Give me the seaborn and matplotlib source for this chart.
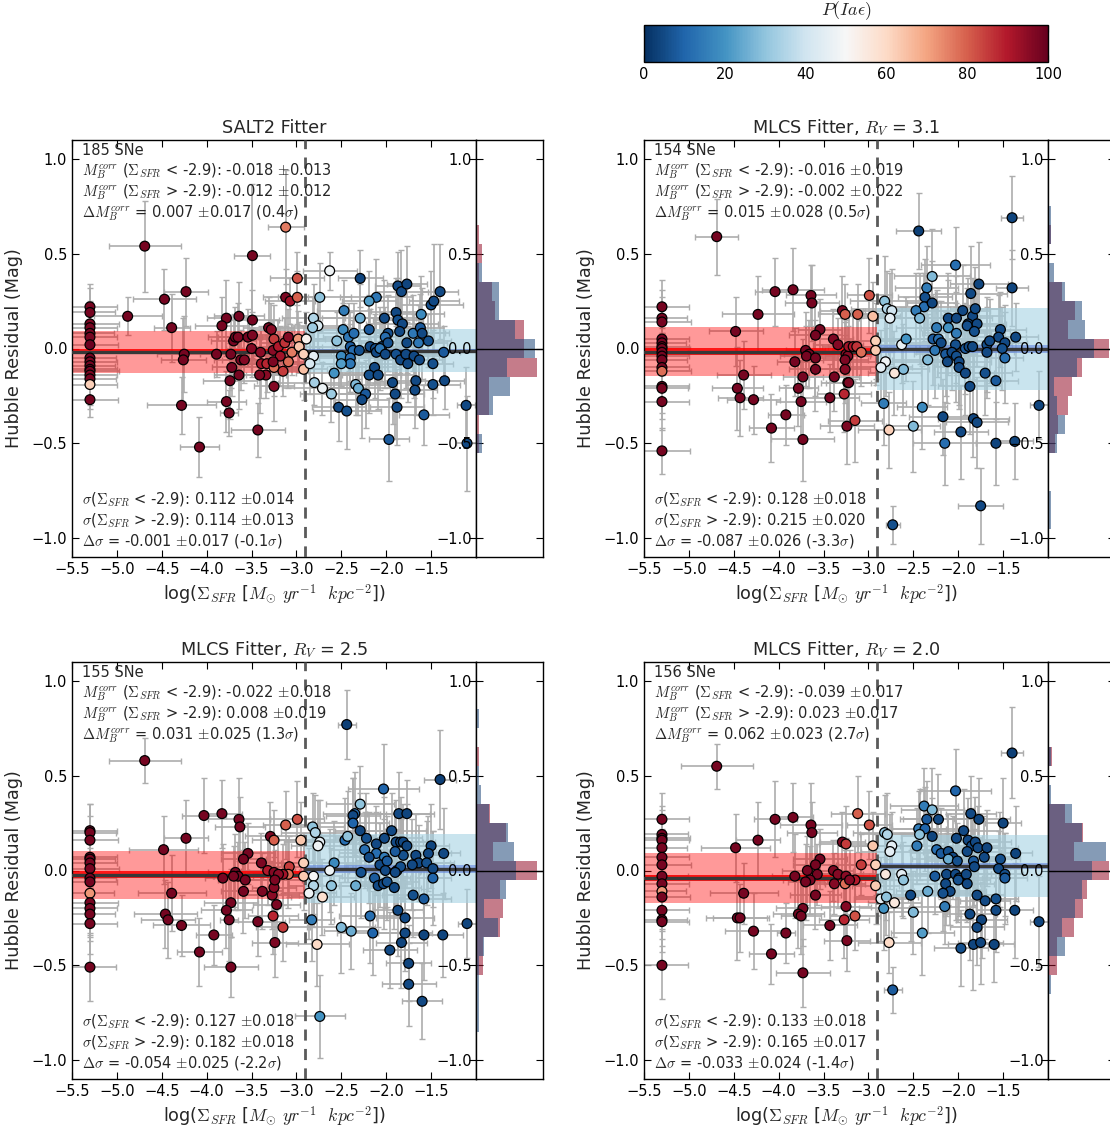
import numpy as np
import matplotlib
matplotlib.use("Agg")
import matplotlib.pyplot as plt
import seaborn as sns
from matplotlib.colors import Normalize
from matplotlib.cm import ScalarMappable

# ---------------------------------------------------------------------------
# Hubble residuals versus local star-formation surface density, four fitters.
# x: log Sigma_SFR, y: Hubble residual, p: P(Ia epsilon) in percent
# ---------------------------------------------------------------------------

salt2_x = [
    -5.30, -5.30, -5.30, -5.30, -5.30, -5.30, -5.30, -5.30, -5.30, -5.30,
    -5.30, -5.30, -5.30, -5.30, -5.30, -5.30, -4.69, -4.23, -4.47, -4.88,
    -4.39, -3.49, -4.25, -4.26, -3.89, -3.78, -3.83, -3.64, -3.70, -3.68,
    -3.65, -3.54, -3.49, -3.49, -3.50, -3.73, -3.62, -3.58, -3.72, -3.64,
    -3.74, -4.28, -3.78, -3.75, -3.43, -4.08, -3.40, -3.39, -3.33, -3.34,
    -3.41, -3.31, -3.28, -3.25, -3.25, -3.25, -3.12, -2.99, -3.12, -3.07,
    -2.99, -3.26, -3.20, -3.13, -3.09, -3.18, -3.09, -3.05, -2.98, -2.97,
    -3.26, -2.92, -2.92, -2.89, -3.15, -2.63, -2.74, -2.29, -2.11, -2.19,
    -1.87, -1.83, -1.77, -1.40, -1.50, -1.47, -2.47, -2.29, -2.02, -1.89,
    -1.87, -1.82, -1.61, -2.81, -2.76, -2.82, -2.48, -2.42, -2.36, -2.55,
    -2.19, -1.98, -2.01, -1.85, -2.05, -1.98, -1.70, -1.62, -1.60, -1.77,
    -1.64, -1.53, -2.40, -2.37, -2.30, -2.18, -2.12, -2.11, -2.07, -2.01,
    -1.89, -1.84, -1.78, -1.69, -1.63, -1.76, -1.48, -1.36, -2.50, -2.40,
    -2.40, -2.81, -2.85, -2.50, -2.58, -2.13, -2.19, -2.09, -1.93, -1.90,
    -1.88, -1.67, -1.68, -1.48, -1.35, -2.34, -2.31, -2.23, -2.27, -2.80,
    -2.71, -2.61, -2.53, -2.44, -1.58, -1.97, -1.11, -1.10,
]
salt2_y = [
    0.22, 0.19, 0.13, 0.11, 0.08, 0.06, 0.02, -0.05, -0.07, -0.09,
    -0.11, -0.12, -0.14, -0.16, -0.19, -0.27, 0.54, 0.30, 0.26, 0.17,
    0.11, 0.49, -0.03, -0.06, -0.03, 0.16, 0.12, 0.17, 0.04, 0.06,
    0.06, 0.06, 0.07, 0.15, 0.00, -0.03, -0.06, -0.06, -0.10, -0.14,
    -0.17, -0.30, -0.28, -0.34, -0.43, -0.52, -0.02, -0.08, -0.08, -0.14,
    -0.14, 0.11, 0.10, 0.05, -0.10, -0.20, 0.64, 0.37, 0.27, 0.25,
    0.27, -0.01, 0.01, 0.03, 0.06, -0.04, -0.07, -0.02, 0.05, 0.01,
    -0.07, -0.03, -0.11, 0.05, -0.12, 0.41, 0.27, 0.37, 0.27, 0.25,
    0.33, 0.30, 0.34, 0.30, 0.23, 0.25, 0.20, 0.16, 0.16, 0.19,
    0.15, 0.13, 0.18, 0.16, 0.12, 0.11, 0.10, 0.06, 0.08, 0.04,
    0.10, 0.08, 0.06, 0.09, 0.01, 0.03, 0.08, 0.11, 0.08, 0.03,
    0.03, 0.04, 0.01, -0.01, -0.01, 0.01, 0.00, -0.02, 0.00, -0.03,
    -0.03, -0.06, -0.03, -0.04, -0.06, -0.08, -0.08, -0.02, -0.04, -0.05,
    -0.08, -0.04, -0.08, -0.08, -0.13, -0.10, -0.14, -0.14, -0.18, -0.24,
    -0.31, -0.17, -0.22, -0.19, -0.17, -0.19, -0.21, -0.24, -0.27, -0.18,
    -0.21, -0.24, -0.31, -0.33, -0.35, -0.48, -0.30, -0.50,
]
salt2_p = [
    98, 98, 97, 98, 98, 98, 99, 98, 97, 98,
    98, 98, 97, 98, 62, 98, 98, 98, 98, 98,
    98, 98, 98, 98, 98, 98, 98, 98, 98, 98,
    97, 98, 97, 98, 96, 98, 98, 96, 98, 98,
    98, 98, 98, 98, 98, 98, 95, 92, 88, 95,
    97, 97, 95, 85, 78, 96, 76, 82, 97, 92,
    80, 95, 90, 86, 96, 92, 78, 76, 72, 64,
    97, 62, 65, 52, 85, 48, 30, 4, 14, 22,
    5, 5, 4, 5, 6, 5, 15, 25, 5, 5,
    6, 5, 18, 35, 42, 32, 18, 14, 12, 30,
    8, 6, 12, 5, 5, 6, 14, 8, 5, 5,
    14, 6, 8, 12, 6, 5, 6, 5, 14, 5,
    6, 5, 5, 5, 5, 5, 6, 8, 18, 12,
    14, 45, 42, 22, 20, 5, 6, 5, 5, 5,
    5, 5, 5, 6, 5, 28, 25, 8, 5, 33,
    47, 32, 5, 6, 8, 8, 5, 5,
]
salt2_xerr = [
    0.30, 0.28, 0.32, 0.30, 0.27, 0.30, 0.31, 0.29, 0.30, 0.28,
    0.30, 0.32, 0.30, 0.29, 0.30, 0.31, 0.40, 0.24, 0.35, 0.38,
    0.20, 0.20, 0.30, 0.25, 0.18, 0.22, 0.30, 0.28, 0.25, 0.30,
    0.22, 0.35, 0.25, 0.30, 0.28, 0.20, 0.30, 0.25, 0.22, 0.28,
    0.30, 0.38, 0.22, 0.10, 0.30, 0.22, 0.30, 0.25, 0.28, 0.22,
    0.30, 0.28, 0.25, 0.30, 0.26, 0.22, 0.20, 0.30, 0.25, 0.28,
    0.22, 0.35, 0.30, 0.28, 0.25, 0.30, 0.26, 0.22, 0.30, 0.25,
    0.28, 0.30, 0.26, 0.32, 0.28, 0.30, 0.35, 0.25, 0.40, 0.30,
    0.25, 0.30, 0.22, 0.20, 0.35, 0.28, 0.30, 0.42, 0.35, 0.30,
    0.28, 0.40, 0.25, 0.35, 0.30, 0.45, 0.32, 0.28, 0.40, 0.38,
    0.30, 0.42, 0.35, 0.28, 0.45, 0.30, 0.35, 0.25, 0.30, 0.40,
    0.32, 0.25, 0.45, 0.38, 0.30, 0.42, 0.35, 0.40, 0.30, 0.28,
    0.35, 0.30, 0.40, 0.28, 0.25, 0.32, 0.22, 0.18, 0.40, 0.35,
    0.30, 0.32, 0.35, 0.38, 0.42, 0.30, 0.35, 0.40, 0.28, 0.32,
    0.30, 0.35, 0.25, 0.30, 0.22, 0.40, 0.35, 0.38, 0.30, 0.40,
    0.45, 0.35, 0.30, 0.38, 0.28, 0.22, 0.10, 0.12,
]
salt2_yerr = [
    0.12, 0.13, 0.11, 0.14, 0.12, 0.13, 0.12, 0.14, 0.13, 0.12,
    0.15, 0.13, 0.12, 0.14, 0.13, 0.09, 0.24, 0.18, 0.16, 0.10,
    0.18, 0.38, 0.20, 0.22, 0.12, 0.20, 0.15, 0.18, 0.14, 0.16,
    0.18, 0.15, 0.12, 0.16, 0.15, 0.18, 0.16, 0.12, 0.15, 0.18,
    0.20, 0.15, 0.16, 0.12, 0.14, 0.16, 0.14, 0.18, 0.15, 0.12,
    0.20, 0.16, 0.14, 0.18, 0.15, 0.18, 0.30, 0.14, 0.15, 0.12,
    0.14, 0.16, 0.14, 0.13, 0.15, 0.16, 0.14, 0.12, 0.15, 0.13,
    0.14, 0.15, 0.16, 0.14, 0.13, 0.10, 0.18, 0.15, 0.20, 0.16,
    0.18, 0.22, 0.20, 0.25, 0.18, 0.30, 0.16, 0.18, 0.20, 0.18,
    0.22, 0.16, 0.20, 0.18, 0.15, 0.16, 0.14, 0.18, 0.16, 0.15,
    0.18, 0.20, 0.16, 0.22, 0.18, 0.15, 0.20, 0.18, 0.24, 0.16,
    0.20, 0.14, 0.18, 0.16, 0.15, 0.20, 0.18, 0.16, 0.22, 0.18,
    0.15, 0.20, 0.18, 0.22, 0.16, 0.20, 0.18, 0.14, 0.16, 0.18,
    0.15, 0.14, 0.16, 0.12, 0.18, 0.16, 0.20, 0.18, 0.22, 0.24,
    0.20, 0.18, 0.20, 0.16, 0.15, 0.16, 0.14, 0.18, 0.20, 0.12,
    0.14, 0.15, 0.18, 0.20, 0.16, 0.22, 0.20, 0.25,
]

mlcs31_x = [
    -5.30, -5.30, -5.30, -5.30, -5.30, -5.30, -5.30, -5.30, -5.30, -5.30,
    -5.30, -5.30, -5.30, -5.30, -5.30, -5.30, -4.69, -4.04, -3.84, -3.64,
    -3.63, -4.23, -4.48, -3.54, -3.59, -3.39, -3.34, -3.29, -3.26, -3.70,
    -3.66, -3.69, -3.82, -3.59, -3.59, -3.38, -3.73, -4.39, -4.46, -4.43,
    -4.28, -3.78, -3.75, -3.43, -3.27, -3.92, -4.08, -3.73, -3.24, -3.25,
    -3.23, -3.23, -3.12, -2.95, -2.99, -3.22, -3.17, -3.13, -3.08, -3.26,
    -3.26, -2.92, -2.92, -3.22, -3.15, -2.77, -2.83, -2.82, -2.79, -2.74,
    -2.76, -2.63, -2.58, -2.81, -2.86, -2.71, -2.61, -2.44, -2.29, -2.35,
    -2.37, -2.38, -2.29, -2.47, -2.43, -2.03, -1.77, -1.86, -1.84, -1.81,
    -1.95, -1.40, -1.40, -2.11, -2.02, -2.24, -2.11, -2.02, -1.89, -1.90,
    -1.79, -1.82, -1.53, -1.55, -1.36, -2.28, -2.22, -2.19, -2.26, -2.03,
    -1.92, -1.88, -1.84, -1.68, -1.65, -1.68, -1.48, -1.51, -1.48, -2.14,
    -2.07, -2.02, -2.12, -1.99, -1.99, -1.92, -2.34, -1.70, -1.58, -1.87,
    -2.40, -2.50, -2.17, -1.97, -2.15, -1.83, -1.79, -1.58, -1.37, -1.10,
    -1.75, -2.73,
]
mlcs31_y = [
    0.22, 0.16, 0.14, 0.05, 0.03, 0.01, 0.00, -0.02, -0.04, -0.06,
    -0.10, -0.12, -0.20, -0.21, -0.28, -0.54, 0.59, 0.30, 0.31, 0.28,
    0.24, 0.18, 0.09, 0.10, 0.07, 0.05, 0.02, 0.20, 0.18, -0.01,
    -0.03, -0.04, -0.07, -0.05, -0.11, -0.15, -0.15, -0.14, -0.21, -0.26,
    -0.27, -0.21, -0.28, -0.26, -0.24, -0.35, -0.42, -0.48, -0.41, -0.03,
    -0.04, -0.18, 0.18, 0.17, 0.28, 0.01, 0.01, 0.01, -0.02, -0.06,
    -0.11, 0.04, -0.01, -0.18, -0.38, -0.43, -0.29, 0.25, 0.21, 0.20,
    0.16, 0.02, 0.05, -0.07, -0.10, -0.13, -0.11, 0.62, 0.38, 0.32,
    0.27, 0.22, 0.24, 0.20, 0.16, 0.44, 0.34, 0.29, 0.17, 0.21,
    0.20, 0.69, 0.32, 0.16, 0.16, 0.11, 0.11, 0.08, 0.13, 0.12,
    0.13, 0.09, 0.10, 0.06, 0.06, 0.05, 0.05, 0.03, -0.01, 0.02,
    0.00, 0.01, 0.01, 0.02, 0.04, -0.02, 0.03, 0.00, -0.05, -0.03,
    -0.02, -0.04, -0.07, -0.07, -0.10, -0.13, -0.06, -0.13, -0.17, -0.20,
    -0.31, -0.41, -0.36, -0.44, -0.50, -0.37, -0.39, -0.50, -0.49, -0.30,
    -0.83, -0.93,
]
mlcs31_p = [
    98, 98, 98, 98, 98, 98, 98, 98, 98, 98,
    98, 78, 98, 98, 98, 98, 98, 98, 98, 98,
    98, 98, 98, 98, 98, 97, 96, 97, 80, 98,
    98, 98, 98, 98, 98, 98, 98, 98, 98, 98,
    98, 98, 98, 98, 88, 98, 98, 98, 97, 95,
    96, 97, 80, 65, 82, 92, 90, 86, 78, 97,
    96, 62, 63, 97, 85, 62, 15, 30, 35, 40,
    45, 46, 20, 48, 45, 56, 28, 3, 28, 15,
    6, 12, 4, 15, 28, 12, 4, 5, 5, 5,
    5, 4, 4, 5, 5, 15, 20, 15, 5, 6,
    5, 6, 5, 5, 5, 8, 12, 5, 14, 6,
    8, 5, 5, 6, 5, 5, 5, 6, 12, 8,
    5, 6, 5, 5, 5, 5, 28, 6, 8, 5,
    18, 28, 5, 5, 12, 4, 5, 4, 4, 4,
    5, 6,
]
mlcs31_xerr = [
    0.30, 0.28, 0.32, 0.30, 0.27, 0.30, 0.31, 0.29, 0.30, 0.28,
    0.30, 0.32, 0.30, 0.29, 0.30, 0.31, 0.24, 0.22, 0.35, 0.28,
    0.30, 0.40, 0.30, 0.25, 0.30, 0.22, 0.28, 0.25, 0.30, 0.22,
    0.28, 0.30, 0.20, 0.25, 0.30, 0.28, 0.22, 0.30, 0.28, 0.25,
    0.30, 0.22, 0.28, 0.32, 0.30, 0.20, 0.25, 0.35, 0.30, 0.28,
    0.25, 0.30, 0.28, 0.30, 0.25, 0.30, 0.28, 0.26, 0.30, 0.25,
    0.28, 0.30, 0.28, 0.25, 0.30, 0.35, 0.25, 0.38, 0.40, 0.32,
    0.35, 0.30, 0.28, 0.40, 0.35, 0.30, 0.28, 0.25, 0.42, 0.35,
    0.30, 0.40, 0.28, 0.35, 0.30, 0.38, 0.32, 0.40, 0.35, 0.28,
    0.30, 0.12, 0.18, 0.35, 0.40, 0.45, 0.30, 0.38, 0.42, 0.35,
    0.30, 0.40, 0.28, 0.30, 0.25, 0.45, 0.38, 0.40, 0.35, 0.30,
    0.42, 0.35, 0.30, 0.28, 0.32, 0.30, 0.25, 0.22, 0.20, 0.35,
    0.40, 0.38, 0.30, 0.35, 0.28, 0.32, 0.40, 0.30, 0.25, 0.35,
    0.28, 0.30, 0.38, 0.30, 0.35, 0.40, 0.35, 0.22, 0.20, 0.10,
    0.25, 0.08,
]
mlcs31_yerr = [
    0.14, 0.15, 0.13, 0.16, 0.14, 0.15, 0.14, 0.16, 0.15, 0.14,
    0.17, 0.15, 0.14, 0.16, 0.15, 0.12, 0.20, 0.18, 0.22, 0.16,
    0.20, 0.20, 0.18, 0.16, 0.18, 0.16, 0.14, 0.18, 0.16, 0.20,
    0.18, 0.16, 0.18, 0.20, 0.22, 0.18, 0.20, 0.18, 0.22, 0.20,
    0.18, 0.20, 0.22, 0.18, 0.20, 0.16, 0.18, 0.22, 0.20, 0.18,
    0.16, 0.20, 0.16, 0.18, 0.20, 0.16, 0.18, 0.16, 0.18, 0.20,
    0.18, 0.20, 0.18, 0.20, 0.22, 0.20, 0.22, 0.24, 0.20, 0.22,
    0.24, 0.20, 0.22, 0.18, 0.20, 0.22, 0.24, 0.20, 0.25, 0.22,
    0.20, 0.18, 0.22, 0.20, 0.24, 0.20, 0.22, 0.25, 0.20, 0.22,
    0.24, 0.22, 0.20, 0.24, 0.22, 0.20, 0.25, 0.22, 0.24, 0.20,
    0.22, 0.25, 0.20, 0.22, 0.18, 0.24, 0.20, 0.22, 0.25, 0.20,
    0.24, 0.22, 0.20, 0.25, 0.22, 0.24, 0.20, 0.22, 0.24, 0.22,
    0.20, 0.24, 0.22, 0.25, 0.20, 0.22, 0.24, 0.22, 0.20, 0.25,
    0.22, 0.24, 0.20, 0.25, 0.22, 0.20, 0.24, 0.22, 0.20, 0.18,
    0.20, 0.10,
]

mlcs25_x = [
    -5.30, -5.30, -5.30, -5.30, -5.30, -5.30, -5.30, -5.30, -5.30, -5.30,
    -5.30, -5.30, -5.30, -5.30, -5.30, -4.69, -4.03, -3.83, -3.64, -3.63,
    -4.23, -4.48, -3.54, -3.59, -3.39, -3.29, -3.25, -3.68, -3.65, -3.70,
    -3.82, -3.57, -3.59, -3.32, -3.25, -3.38, -3.27, -3.25, -4.39, -3.73,
    -3.78, -3.75, -4.46, -4.43, -4.28, -3.43, -3.26, -3.92, -4.08, -3.73,
    -3.24, -2.99, -3.12, -3.08, -3.09, -3.15, -3.20, -3.24, -3.22, -3.15,
    -2.92, -2.92, -2.95, -2.77, -2.44, -1.40, -2.03, -2.29, -2.35, -2.37,
    -2.37, -2.29, -1.86, -1.77, -1.94, -2.02, -2.22, -2.11, -1.89, -1.84,
    -1.81, -1.77, -1.81, -1.90, -1.50, -1.53, -1.36, -1.67, -1.64, -1.71,
    -1.55, -1.48, -1.48, -2.46, -2.43, -2.24, -2.11, -2.19, -2.02, -2.07,
    -1.99, -2.01, -1.88, -1.84, -1.90, -2.58, -2.28, -2.13, -2.09, -2.03,
    -1.99, -1.91, -2.34, -2.61, -2.63, -2.82, -2.79, -2.74, -2.76, -2.81,
    -2.81, -2.86, -2.71, -2.83, -2.50, -2.39, -2.15, -2.18, -1.96, -1.87,
    -1.79, -1.79, -1.83, -1.70, -1.58, -1.58, -1.37, -1.10, -1.75, -1.75,
    -1.60, -2.74,
]
mlcs25_y = [
    0.21, 0.20, 0.16, 0.07, 0.06, 0.04, 0.01, -0.04, -0.06, -0.12,
    -0.17, -0.20, -0.23, -0.28, -0.51, 0.58, 0.29, 0.30, 0.27, 0.23,
    0.17, 0.11, 0.09, 0.06, 0.04, 0.18, 0.16, -0.01, -0.03, -0.03,
    -0.04, -0.05, -0.11, 0.00, -0.01, -0.11, -0.13, -0.09, -0.12, -0.17,
    -0.21, -0.26, -0.23, -0.26, -0.29, -0.27, -0.24, -0.34, -0.43, -0.51,
    -0.38, 0.27, 0.24, 0.02, -0.02, -0.02, -0.02, -0.05, -0.18, -0.30,
    0.04, -0.03, 0.16, -0.39, 0.77, 0.48, 0.43, 0.35, 0.30, 0.29,
    0.25, 0.21, 0.30, 0.30, 0.21, 0.17, 0.17, 0.14, 0.15, 0.15,
    0.15, 0.13, 0.08, 0.10, 0.13, 0.09, 0.09, 0.08, 0.04, 0.03,
    0.04, 0.01, -0.04, 0.16, 0.18, 0.11, 0.09, 0.07, 0.07, 0.03,
    0.05, 0.00, 0.00, 0.02, -0.01, 0.04, -0.01, -0.04, -0.08, -0.07,
    -0.06, -0.09, -0.08, -0.08, 0.00, 0.23, 0.20, 0.15, 0.13, -0.03,
    -0.08, -0.12, -0.14, -0.26, -0.30, -0.32, -0.33, -0.24, -0.42, -0.21,
    -0.25, -0.33, -0.38, -0.13, -0.15, -0.34, -0.34, -0.28, -0.49, -0.60,
    -0.69, -0.77,
]
mlcs25_p = [
    98, 98, 98, 98, 98, 98, 98, 98, 98, 72,
    98, 98, 98, 98, 98, 98, 98, 98, 98, 98,
    98, 98, 98, 98, 97, 97, 80, 98, 98, 98,
    98, 98, 98, 90, 96, 97, 95, 96, 98, 98,
    98, 98, 98, 98, 98, 98, 88, 98, 98, 98,
    97, 82, 80, 85, 78, 92, 95, 97, 97, 85,
    62, 63, 64, 60, 3, 3, 10, 30, 12, 5,
    10, 4, 5, 4, 5, 5, 6, 5, 5, 4,
    5, 4, 6, 8, 4, 5, 5, 5, 5, 5,
    6, 5, 10, 12, 30, 12, 12, 5, 15, 5,
    8, 5, 5, 6, 5, 18, 6, 8, 5, 5,
    6, 5, 25, 30, 47, 30, 35, 45, 48, 50,
    35, 48, 58, 15, 28, 25, 10, 12, 5, 5,
    5, 5, 4, 6, 8, 4, 4, 4, 4, 5,
    5, 20,
]
mlcs25_xerr = [
    0.30, 0.29, 0.31, 0.30, 0.28, 0.30, 0.32, 0.29, 0.30, 0.27,
    0.31, 0.30, 0.28, 0.30, 0.29, 0.40, 0.24, 0.22, 0.35, 0.28,
    0.24, 0.38, 0.30, 0.25, 0.22, 0.28, 0.25, 0.30, 0.28, 0.22,
    0.20, 0.30, 0.25, 0.30, 0.28, 0.22, 0.30, 0.25, 0.38, 0.30,
    0.28, 0.10, 0.35, 0.30, 0.32, 0.30, 0.28, 0.20, 0.25, 0.30,
    0.26, 0.30, 0.25, 0.28, 0.30, 0.25, 0.28, 0.30, 0.26, 0.30,
    0.28, 0.30, 0.25, 0.35, 0.10, 0.18, 0.40, 0.38, 0.35, 0.30,
    0.40, 0.28, 0.35, 0.30, 0.38, 0.42, 0.35, 0.40, 0.30, 0.28,
    0.35, 0.30, 0.40, 0.45, 0.20, 0.25, 0.18, 0.30, 0.35, 0.28,
    0.30, 0.22, 0.20, 0.35, 0.30, 0.40, 0.42, 0.35, 0.45, 0.38,
    0.35, 0.40, 0.30, 0.38, 0.28, 0.30, 0.35, 0.40, 0.30, 0.32,
    0.35, 0.30, 0.38, 0.30, 0.28, 0.35, 0.38, 0.40, 0.30, 0.32,
    0.28, 0.30, 0.35, 0.25, 0.38, 0.30, 0.40, 0.35, 0.30, 0.28,
    0.32, 0.30, 0.28, 0.35, 0.30, 0.25, 0.22, 0.10, 0.25, 0.30,
    0.22, 0.28,
]
mlcs25_yerr = [
    0.14, 0.15, 0.13, 0.16, 0.14, 0.15, 0.14, 0.16, 0.15, 0.14,
    0.17, 0.15, 0.14, 0.16, 0.18, 0.12, 0.20, 0.18, 0.22, 0.16,
    0.20, 0.18, 0.16, 0.18, 0.16, 0.18, 0.16, 0.20, 0.18, 0.16,
    0.18, 0.20, 0.22, 0.18, 0.16, 0.20, 0.18, 0.16, 0.20, 0.18,
    0.20, 0.22, 0.18, 0.20, 0.16, 0.18, 0.20, 0.16, 0.18, 0.16,
    0.18, 0.20, 0.18, 0.16, 0.18, 0.16, 0.18, 0.16, 0.20, 0.18,
    0.16, 0.18, 0.20, 0.22, 0.18, 0.26, 0.24, 0.20, 0.22, 0.20,
    0.24, 0.20, 0.22, 0.18, 0.20, 0.22, 0.24, 0.20, 0.22, 0.24,
    0.20, 0.22, 0.24, 0.20, 0.22, 0.20, 0.24, 0.22, 0.20, 0.24,
    0.22, 0.20, 0.25, 0.22, 0.24, 0.20, 0.22, 0.24, 0.20, 0.22,
    0.24, 0.20, 0.22, 0.25, 0.20, 0.22, 0.24, 0.20, 0.22, 0.24,
    0.20, 0.22, 0.24, 0.20, 0.22, 0.18, 0.20, 0.22, 0.24, 0.20,
    0.22, 0.24, 0.20, 0.22, 0.24, 0.20, 0.22, 0.25, 0.20, 0.24,
    0.22, 0.20, 0.24, 0.22, 0.20, 0.24, 0.22, 0.18, 0.20, 0.22,
    0.20, 0.22,
]

mlcs20_x = [
    -5.30, -5.30, -5.30, -5.30, -5.30, -5.30, -5.30, -5.30, -5.30, -5.30,
    -5.30, -5.30, -5.30, -5.30, -5.30, -4.69, -4.04, -3.84, -3.64, -3.63,
    -4.23, -4.48, -3.54, -3.59, -3.39, -3.34, -3.29, -3.25, -3.68, -3.57,
    -3.65, -3.70, -3.82, -3.59, -3.38, -3.25, -3.26, -4.39, -3.73, -3.78,
    -3.75, -4.46, -4.43, -4.28, -3.92, -3.43, -3.27, -4.08, -3.73, -3.24,
    -3.25, -3.12, -2.99, -3.08, -3.15, -3.21, -3.15, -2.92, -2.92, -2.95,
    -2.77, -1.40, -2.03, -2.38, -2.29, -2.35, -2.22, -1.86, -1.77, -1.50,
    -2.44, -2.37, -2.43, -2.29, -1.94, -2.46, -2.02, -1.89, -1.85, -1.81,
    -1.78, -1.68, -1.36, -2.24, -2.19, -2.11, -2.06, -2.11, -2.01, -1.90,
    -1.83, -1.82, -1.71, -1.53, -1.55, -1.48, -1.48, -2.26, -2.13, -2.03,
    -1.99, -2.00, -1.91, -1.90, -2.14, -2.09, -2.17, -2.34, -2.53, -1.70,
    -1.58, -1.79, -2.15, -2.50, -1.87, -1.74, -1.58, -1.37, -1.79, -1.10,
    -2.40, -1.97, -1.83, -1.75, -1.60, -2.73, -2.82, -2.79, -2.74, -2.76,
    -2.63, -2.61, -2.81, -2.86, -2.80, -2.71, -2.83,
]
mlcs20_y = [
    0.27, 0.19, 0.17, 0.16, 0.12, 0.07, 0.03, -0.03, -0.07, -0.11,
    -0.14, -0.21, -0.26, -0.27, -0.50, 0.55, 0.27, 0.28, 0.24, 0.20,
    0.16, 0.12, 0.06, 0.03, 0.00, -0.02, 0.15, 0.14, 0.00, -0.02,
    -0.05, -0.06, -0.03, -0.13, -0.07, -0.03, -0.07, -0.12, -0.20, -0.23,
    -0.24, -0.25, -0.25, -0.32, -0.33, -0.29, -0.26, -0.44, -0.54, -0.37,
    -0.19, 0.30, 0.24, 0.03, -0.05, -0.05, -0.24, 0.03, -0.08, 0.13,
    -0.38, 0.62, 0.42, 0.34, 0.32, 0.27, 0.27, 0.30, 0.27, 0.25,
    0.22, 0.22, 0.19, 0.18, 0.21, 0.13, 0.17, 0.16, 0.13, 0.15,
    0.12, 0.12, 0.09, 0.11, 0.09, 0.10, 0.07, 0.06, 0.05, 0.10,
    0.05, 0.02, 0.07, 0.06, 0.01, -0.02, -0.04, -0.03, -0.02, -0.02,
    -0.04, -0.05, -0.02, -0.07, -0.07, -0.11, -0.12, -0.11, -0.13, -0.16,
    -0.15, -0.13, -0.19, -0.22, -0.23, -0.26, -0.21, -0.21, -0.30, -0.27,
    -0.33, -0.41, -0.39, -0.38, -0.39, -0.63, 0.20, 0.19, 0.13, 0.10,
    -0.02, -0.05, -0.02, -0.15, -0.14, -0.17, -0.20,
]
mlcs20_p = [
    98, 98, 98, 98, 98, 98, 98, 98, 98, 72,
    98, 98, 98, 98, 98, 98, 98, 98, 98, 98,
    98, 98, 98, 98, 97, 96, 97, 85, 98, 98,
    98, 98, 98, 98, 96, 95, 78, 98, 98, 98,
    98, 98, 98, 98, 98, 98, 88, 98, 98, 97,
    96, 80, 82, 85, 90, 96, 82, 62, 63, 64,
    60, 3, 10, 15, 28, 8, 5, 5, 4, 4,
    15, 10, 30, 4, 5, 15, 5, 5, 6, 5,
    5, 4, 4, 12, 8, 6, 5, 25, 6, 5,
    8, 5, 5, 6, 5, 6, 8, 8, 5, 5,
    5, 6, 5, 5, 5, 5, 6, 25, 5, 5,
    6, 5, 15, 28, 5, 4, 5, 4, 5, 4,
    22, 6, 4, 4, 4, 8, 30, 35, 45, 45,
    45, 30, 55, 45, 30, 55, 20,
]
mlcs20_xerr = [
    0.30, 0.29, 0.31, 0.30, 0.28, 0.30, 0.32, 0.29, 0.30, 0.27,
    0.31, 0.30, 0.28, 0.30, 0.29, 0.40, 0.24, 0.22, 0.35, 0.28,
    0.24, 0.38, 0.30, 0.25, 0.22, 0.28, 0.25, 0.30, 0.28, 0.22,
    0.30, 0.20, 0.25, 0.28, 0.30, 0.26, 0.22, 0.38, 0.30, 0.28,
    0.22, 0.35, 0.30, 0.32, 0.10, 0.30, 0.28, 0.25, 0.30, 0.26,
    0.28, 0.30, 0.25, 0.28, 0.30, 0.25, 0.28, 0.30, 0.26, 0.30,
    0.35, 0.12, 0.40, 0.38, 0.35, 0.30, 0.40, 0.28, 0.35, 0.20,
    0.30, 0.38, 0.42, 0.35, 0.40, 0.30, 0.28, 0.35, 0.30, 0.40,
    0.45, 0.20, 0.18, 0.30, 0.35, 0.28, 0.30, 0.40, 0.35, 0.38,
    0.35, 0.40, 0.30, 0.22, 0.25, 0.20, 0.25, 0.38, 0.35, 0.40,
    0.30, 0.35, 0.28, 0.30, 0.38, 0.40, 0.30, 0.35, 0.30, 0.28,
    0.25, 0.30, 0.35, 0.40, 0.30, 0.28, 0.22, 0.20, 0.30, 0.10,
    0.35, 0.30, 0.28, 0.25, 0.22, 0.10, 0.35, 0.30, 0.38, 0.32,
    0.30, 0.35, 0.28, 0.30, 0.35, 0.30, 0.28,
]
mlcs20_yerr = [
    0.14, 0.15, 0.13, 0.16, 0.14, 0.15, 0.14, 0.16, 0.15, 0.14,
    0.17, 0.15, 0.14, 0.16, 0.18, 0.12, 0.20, 0.18, 0.22, 0.16,
    0.20, 0.18, 0.16, 0.18, 0.16, 0.18, 0.16, 0.20, 0.18, 0.16,
    0.18, 0.20, 0.22, 0.18, 0.16, 0.20, 0.18, 0.16, 0.20, 0.18,
    0.20, 0.22, 0.18, 0.20, 0.16, 0.18, 0.20, 0.16, 0.18, 0.16,
    0.18, 0.20, 0.18, 0.16, 0.18, 0.16, 0.18, 0.16, 0.20, 0.18,
    0.16, 0.24, 0.22, 0.20, 0.22, 0.20, 0.24, 0.20, 0.22, 0.24,
    0.20, 0.22, 0.24, 0.20, 0.22, 0.20, 0.24, 0.22, 0.20, 0.24,
    0.22, 0.20, 0.25, 0.22, 0.24, 0.20, 0.22, 0.24, 0.20, 0.22,
    0.24, 0.20, 0.22, 0.25, 0.20, 0.22, 0.24, 0.20, 0.22, 0.24,
    0.20, 0.22, 0.24, 0.20, 0.22, 0.18, 0.20, 0.22, 0.24, 0.20,
    0.22, 0.24, 0.20, 0.22, 0.24, 0.20, 0.22, 0.25, 0.20, 0.24,
    0.22, 0.20, 0.24, 0.22, 0.20, 0.12, 0.20, 0.22, 0.18, 0.20,
    0.22, 0.20, 0.24, 0.22, 0.20, 0.18, 0.22,
]

# Summary statistics quoted in each panel (low / high Sigma_SFR split at -2.9)
fitter_titles = ["SALT2 Fitter", r"MLCS Fitter, $R_V$ = 3.1",
                 r"MLCS Fitter, $R_V$ = 2.5", r"MLCS Fitter, $R_V$ = 2.0"]
n_sne = [185, 154, 155, 156]
mean_low = [-0.018, -0.016, -0.022, -0.039]
mean_low_err = [0.013, 0.019, 0.018, 0.017]
mean_high = [-0.012, -0.002, 0.008, 0.023]
mean_high_err = [0.012, 0.022, 0.019, 0.017]
delta_mean = [0.007, 0.015, 0.031, 0.062]
delta_mean_err = [0.017, 0.028, 0.025, 0.023]
delta_mean_nsig = [0.4, 0.5, 1.3, 2.7]
sigma_low = [0.112, 0.128, 0.127, 0.133]
sigma_low_err = [0.014, 0.018, 0.018, 0.018]
sigma_high = [0.114, 0.215, 0.182, 0.165]
sigma_high_err = [0.013, 0.020, 0.018, 0.017]
delta_sigma = [-0.001, -0.087, -0.054, -0.033]
delta_sigma_err = [0.017, 0.026, 0.025, 0.024]
delta_sigma_nsig = [-0.1, -3.3, -2.2, -1.4]

x_ticks = [-5.5, -5.0, -4.5, -4.0, -3.5, -3.0, -2.5, -2.0, -1.5]
y_ticks = [-1.0, -0.5, 0.0, 0.5, 1.0]
cbar_ticks = [0, 20, 40, 60, 80, 100]
SPLIT = -2.9
XLIM = (-5.5, -1.0)
YLIM = (-1.1, 1.1)

panel_data = [
    (salt2_x, salt2_y, salt2_p, salt2_xerr, salt2_yerr),
    (mlcs31_x, mlcs31_y, mlcs31_p, mlcs31_xerr, mlcs31_yerr),
    (mlcs25_x, mlcs25_y, mlcs25_p, mlcs25_xerr, mlcs25_yerr),
    (mlcs20_x, mlcs20_y, mlcs20_p, mlcs20_xerr, mlcs20_yerr),
]

# ---------------------------------------------------------------------------
sns.set_style("ticks")
plt.rcParams.update({
    "font.family": ["DejaVu Sans"],
    "mathtext.fontset": "cm",
    "xtick.direction": "in",
    "ytick.direction": "in",
    "xtick.major.size": 5,
    "ytick.major.size": 5,
    "xtick.color": "black",
    "ytick.color": "black",
    "axes.edgecolor": "black",
    "axes.linewidth": 1.0,
    "xtick.labelsize": 10.5,
    "ytick.labelsize": 10.5,
})

fig = plt.figure(figsize=(11.1, 11.28), dpi=100)

W, H = 1110.0, 1128.0
main_w = 404 / W
main_h = 417 / H
hist_w = 67 / W
lefts = [72 / W, 644 / W, 72 / W, 644 / W]
bottoms = [1 - 557 / H, 1 - 557 / H, 1 - 1079 / H, 1 - 1079 / H]

cmap = "RdBu_r"
norm = Normalize(0, 100)
hist_edges = np.arange(-1.05, 1.0501, 0.1)
FS = 10.5

for i, (xs, ys, ps, xe, ye) in enumerate(panel_data):
    xs = np.asarray(xs); ys = np.asarray(ys); ps = np.asarray(ps)
    xe = np.asarray(xe); ye = np.asarray(ye)

    ax = fig.add_axes([lefts[i], bottoms[i], main_w, main_h])
    hax = fig.add_axes([lefts[i] + main_w, bottoms[i], hist_w, main_h])

    # measurement uncertainties
    ax.errorbar(xs, ys, xerr=xe, yerr=ye, fmt="none", ecolor="#adadad",
                elinewidth=1.2, capsize=2.5, capthick=1.0, zorder=1)

    # scatter bands: mean +/- sigma, and mean +/- error on the mean
    ml, mh = mean_low[i], mean_high[i]
    ax.fill_between([XLIM[0], SPLIT], ml - sigma_low[i], ml + sigma_low[i],
                    color="#ff0000", alpha=0.40, lw=0, zorder=2)
    ax.fill_between([SPLIT, XLIM[1]], mh - sigma_high[i], mh + sigma_high[i],
                    color="#a6d3e3", alpha=0.60, lw=0, zorder=2)
    ax.fill_between([XLIM[0], SPLIT], ml - mean_low_err[i], ml + mean_low_err[i],
                    color="#ff0000", alpha=0.85, lw=0, zorder=2.2)
    ax.fill_between([SPLIT, XLIM[1]], mh - mean_high_err[i], mh + mean_high_err[i],
                    color="#5a7ee0", alpha=0.55, lw=0, zorder=2.2)
    ax.plot([XLIM[0], SPLIT], [ml, ml], color="#383838", lw=2.4, zorder=3)
    ax.plot([SPLIT, XLIM[1]], [mh, mh], color="#383838", lw=2.4, zorder=3)

    ax.axvline(SPLIT, color="#5a5a5a", lw=2.0, ls=(0, (4, 3)), zorder=3.5)

    sns.scatterplot(x=xs, y=ys, hue=ps, palette=cmap, hue_norm=(0, 100),
                    s=50, edgecolor="black", linewidth=0.9, legend=False,
                    ax=ax, zorder=4)

    ax.set_xlim(*XLIM)
    ax.set_ylim(*YLIM)
    ax.set_xticks(x_ticks)
    ax.set_yticks(y_ticks)
    ax.tick_params(top=True, right=True, labelright=False)
    ax.set_title(fitter_titles[i], fontsize=12.7, pad=5)
    ax.set_xlabel(r"log($\Sigma_{SFR}$ [$M_{\odot}$ $yr^{-1}$  $kpc^{-2}$])",
                  fontsize=12.7, labelpad=4)
    ax.set_ylabel("Hubble Residual (Mag)", fontsize=12.7, labelpad=6)

    # annotations
    tx = 0.025
    ax.text(tx, 0.976, f"{n_sne[i]} SNe", transform=ax.transAxes,
            va="center", ha="left", fontsize=FS, zorder=6)
    ax.text(tx, 0.926,
            r"$M_B^{corr}$ ($\Sigma_{SFR}$ < -2.9): "
            + f"{mean_low[i]:.3f} " + r"$\pm$" + f"{mean_low_err[i]:.3f}",
            transform=ax.transAxes, va="center", ha="left", fontsize=FS, zorder=6)
    ax.text(tx, 0.875,
            r"$M_B^{corr}$ ($\Sigma_{SFR}$ > -2.9): "
            + f"{mean_high[i]:.3f} " + r"$\pm$" + f"{mean_high_err[i]:.3f}",
            transform=ax.transAxes, va="center", ha="left", fontsize=FS, zorder=6)
    ax.text(tx, 0.825,
            r"$\Delta M_B^{corr}$ = " + f"{delta_mean[i]:.3f} " + r"$\pm$"
            + f"{delta_mean_err[i]:.3f} ({delta_mean_nsig[i]:.1f}" + r"$\sigma$)",
            transform=ax.transAxes, va="center", ha="left", fontsize=FS, zorder=6)
    ax.text(tx, 0.139,
            r"$\sigma$($\Sigma_{SFR}$ < -2.9): " + f"{sigma_low[i]:.3f} "
            + r"$\pm$" + f"{sigma_low_err[i]:.3f}",
            transform=ax.transAxes, va="center", ha="left", fontsize=FS, zorder=6)
    ax.text(tx, 0.089,
            r"$\sigma$($\Sigma_{SFR}$ > -2.9): " + f"{sigma_high[i]:.3f} "
            + r"$\pm$" + f"{sigma_high_err[i]:.3f}",
            transform=ax.transAxes, va="center", ha="left", fontsize=FS, zorder=6)
    ax.text(tx, 0.038,
            r"$\Delta\sigma$ = " + f"{delta_sigma[i]:.3f} " + r"$\pm$"
            + f"{delta_sigma_err[i]:.3f} ({delta_sigma_nsig[i]:.1f}" + r"$\sigma$)",
            transform=ax.transAxes, va="center", ha="left", fontsize=FS, zorder=6)

    # side histograms of the residuals, split by Sigma_SFR
    low = ys[xs < SPLIT]
    high = ys[xs >= SPLIT]
    sns.histplot(y=low, bins=hist_edges, stat="density", element="step",
                 fill=True, color="#96112b", alpha=0.55, linewidth=0, ax=hax)
    sns.histplot(y=high, bins=hist_edges, stat="density", element="step",
                 fill=True, color="#21497b", alpha=0.55, linewidth=0, ax=hax)
    hax.axhline(0, color="black", lw=1.0)
    hax.set_ylim(*YLIM)
    xmax = hax.get_xlim()[1]
    hax.set_xlim(0, xmax * 1.05)
    hax.set_xticks([])
    hax.set_xlabel("")
    hax.set_ylabel("")
    hax.set_yticks(y_ticks)
    hax.tick_params(axis="y", left=True, right=True, labelleft=True,
                    labelright=False, direction="in", pad=3)
    for sp in hax.spines.values():
        sp.set_visible(True)
        sp.set_color("black")

# colour scale for P(Ia epsilon)
cax = fig.add_axes([644 / W, 1 - 62 / H, main_w, 37 / H])
sm = ScalarMappable(norm=norm, cmap=cmap)
cb = fig.colorbar(sm, cax=cax, orientation="horizontal")
cb.set_ticks(cbar_ticks)
cb.outline.set_linewidth(1.0)
cax.tick_params(direction="in", top=True, bottom=True, length=5, labelsize=10.5)
cax.set_title(r"$P(Ia\epsilon)$", fontsize=13, pad=7)

fig.savefig("out.png", dpi=100)
